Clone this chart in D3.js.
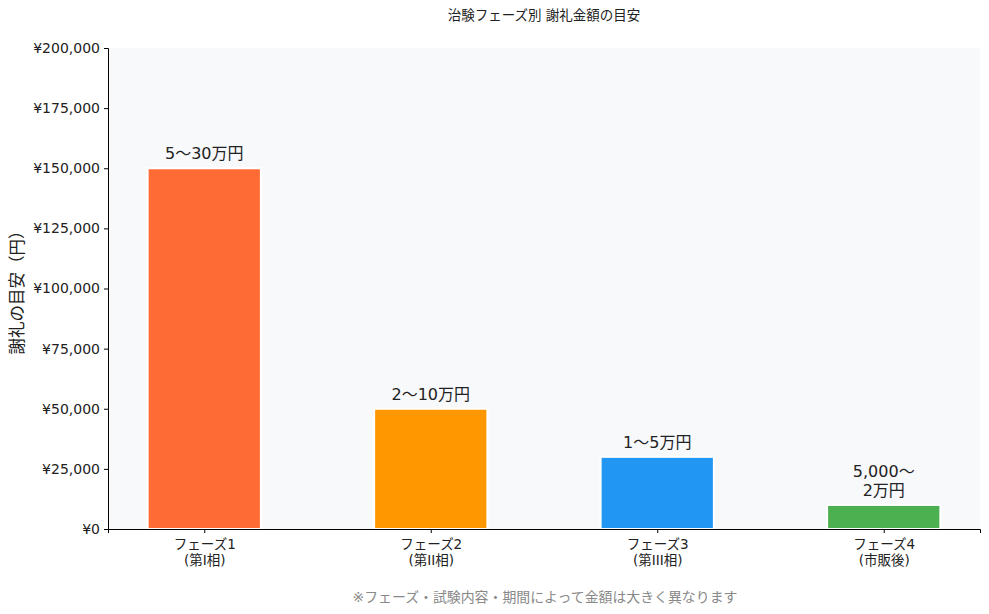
<!DOCTYPE html>
<html>
<head>
<meta charset="utf-8">
<script src="https://cdn.jsdelivr.net/npm/d3@7"></script>
<style>
  body { margin: 0; background: #fff; }
  svg { font-family: "DejaVu Sans", "Noto Sans CJK JP", sans-serif; }
</style>
</head>
<body>
<svg id="chart" width="989" height="614"></svg>
<script>
// data
const phases = ["フェーズ1", "フェーズ2", "フェーズ3", "フェーズ4"];
const subLabels = ["(第I相)", "(第II相)", "(第III相)", "(市販後)"];
const amounts = [150000, 50000, 30000, 10000];
const rangeLabels = [["5〜30万円"], ["2〜10万円"], ["1〜5万円"], ["5,000〜", "2万円"]];
const colors = ["#FF6B35", "#FF9800", "#2196F3", "#4CAF50"];
const yTicks = [0, 25000, 50000, 75000, 100000, 125000, 150000, 175000, 200000];

const margin = { top: 48, right: 9, bottom: 85, left: 108 };
const width = 989 - margin.left - margin.right,
  height = 614 - margin.top - margin.bottom;

const svg = d3.select("#chart");
const g = svg.append("g").attr("transform", "translate(" + margin.left + "," + margin.top + ")");

g.append("rect").attr("width", width).attr("height", height).attr("fill", "#f8f9fa");

// like matplotlib: bar width 0.5, 5% margins
const x = d3.scaleLinear().domain([-0.425, 3.425]).range([0, width]);
const y = d3.scaleLinear().domain([0, 200000]).range([height, 0]);
const bw = x(0.5) - x(0);

g.selectAll(".bar")
  .data(amounts)
  .enter()
  .append("rect")
  .attr("class", "bar")
  .attr("x", (d, i) => x(i) - bw / 2)
  .attr("y", d => y(d))
  .attr("width", bw)
  .attr("height", d => height - y(d))
  .attr("fill", (d, i) => colors[i])
  .attr("stroke", "#fff")
  .attr("stroke-width", 2);

// value labels, one text per line
amounts.forEach((d, i) => {
  const lines = rangeLabels[i];
  lines.forEach((s, k) => {
    g.append("text")
      .attr("x", x(i))
      .attr("y", y(d) - 9 - (lines.length - 1 - k) * 19)
      .attr("text-anchor", "middle")
      .attr("font-size", 16)
      .attr("fill", "#222")
      .text(s);
  });
});

// y axis
const yAxis = g.append("g")
  .call(d3.axisLeft(y).tickValues(yTicks).tickSize(4).tickPadding(4)
    .tickFormat(v => "¥" + d3.format(",")(v)));
yAxis.attr("font-family", null);
yAxis.selectAll("text").attr("font-size", 14).attr("fill", "#222");
yAxis.select(".domain").attr("stroke", "#000");

// x axis
const xAxis = g.append("g")
  .attr("transform", "translate(0," + height + ")")
  .call(d3.axisBottom(x).tickValues([0, 1, 2, 3]).tickSize(4).tickFormat(""));
xAxis.attr("font-family", null);
xAxis.select(".domain").attr("stroke", "#000");
xAxis.selectAll(".tick").each(function (d) {
  const t = d3.select(this).append("text")
    .attr("text-anchor", "middle")
    .attr("font-size", 13.5)
    .attr("fill", "#222");
  t.append("tspan").attr("x", 0).attr("y", 20).text(phases[d]);
  t.append("tspan").attr("x", 0).attr("y", 36).text(subLabels[d]);
});

// y label
svg.append("text")
  .attr("transform", "translate(23," + (margin.top + height / 2) + ") rotate(-90)")
  .attr("text-anchor", "middle")
  .attr("font-size", 16.5)
  .attr("fill", "#222")
  .text("謝礼の目安（円）");

// title
svg.append("text")
  .attr("x", margin.left + width / 2)
  .attr("y", 20)
  .attr("text-anchor", "middle")
  .attr("font-size", 13.5)
  .attr("fill", "#222")
  .text("治験フェーズ別 謝礼金額の目安");

// note
svg.append("text")
  .attr("x", 545)
  .attr("y", 602)
  .attr("text-anchor", "middle")
  .attr("font-size", 13.9)
  .attr("fill", "#888")
  .text("※フェーズ・試験内容・期間によって金額は大きく異なります");
</script>
</body>
</html>
